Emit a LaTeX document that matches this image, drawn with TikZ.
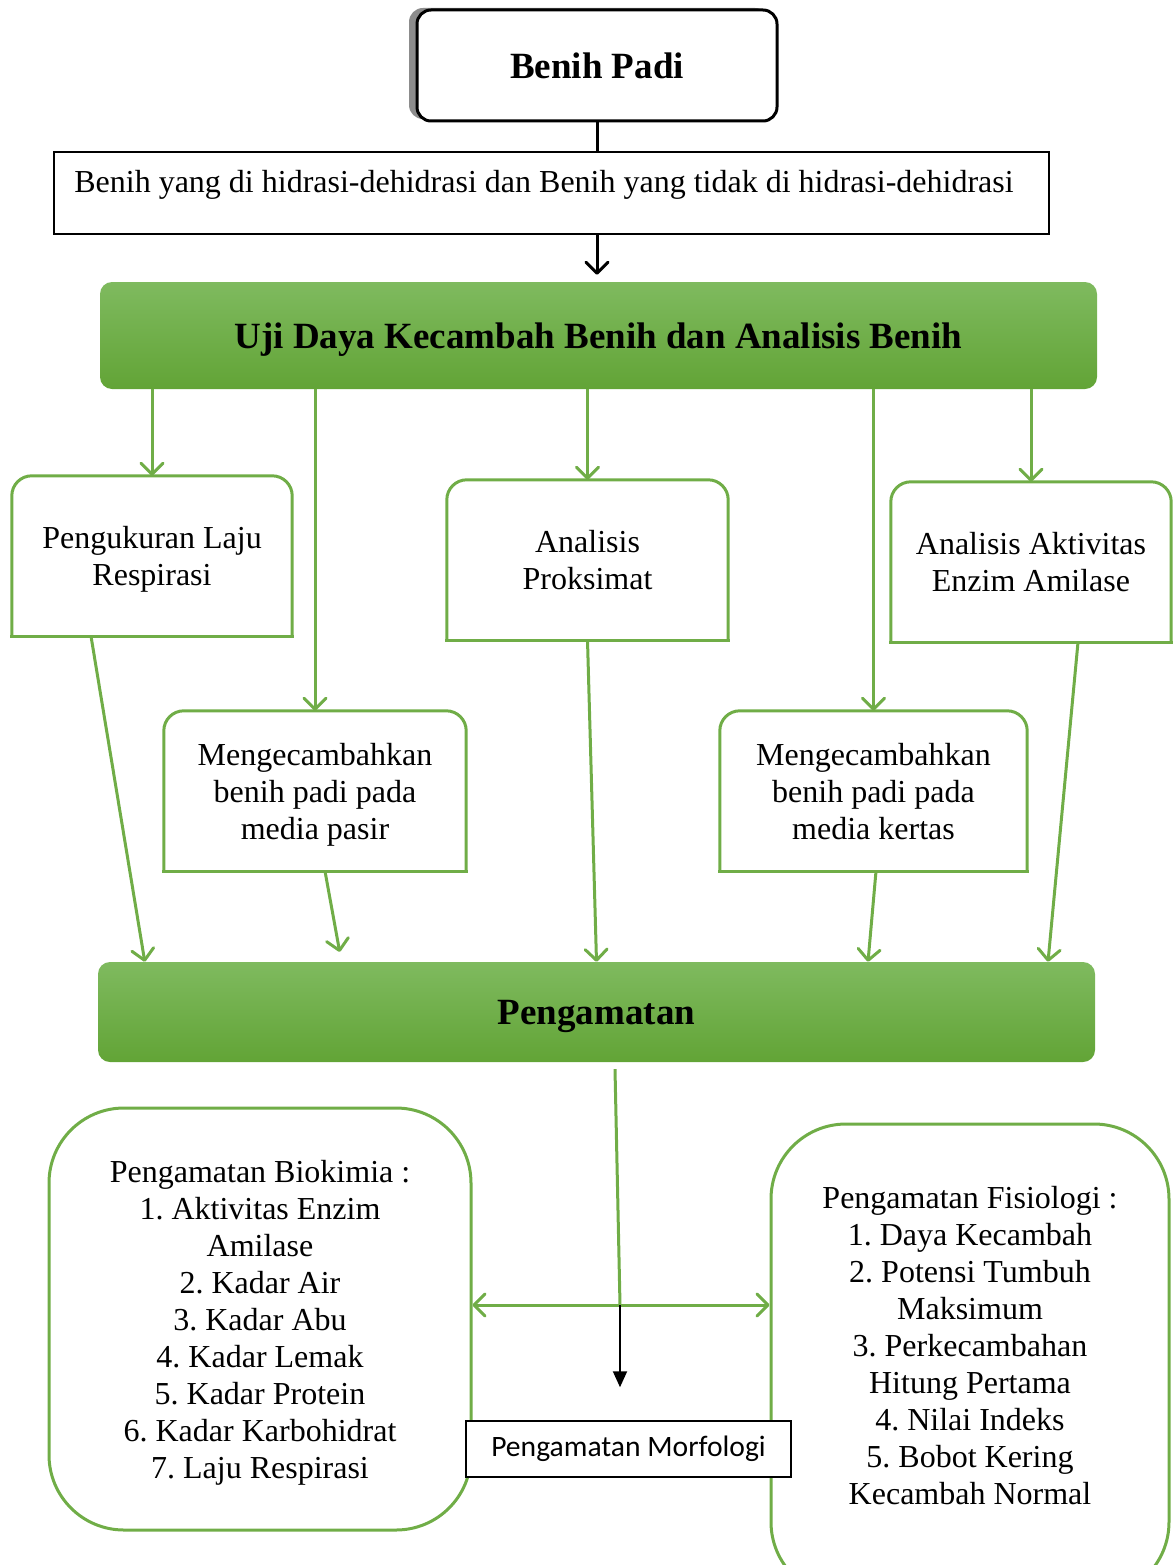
\documentclass[tikz,border=0pt]{standalone}
\usepackage{fontspec}
\setmainfont{Liberation Serif}
\newfontfamily\calibri{Carlito}
\usetikzlibrary{arrows.meta,shadows}
\definecolor{ijo}{RGB}{112,173,71}
\definecolor{ijoatas}{RGB}{127,186,95}
\definecolor{ijobawah}{RGB}{98,164,54}
\frenchspacing

\begin{document}
\begin{tikzpicture}[x=1pt,y=-1pt,
    tulisan/.style={font=\fontsize{32}{37}\selectfont,align=center,text depth=0pt},
    judul/.style={font=\fontsize{37}{42}\selectfont\bfseries},
    kotakhijau/.style={judul,text depth=0pt,rounded corners=12pt,top color=ijoatas,bottom color=ijobawah,draw=none},
    kotak/.style={tulisan,inner sep=0pt},
    bulat/.style={tulisan,draw=ijo,line width=3pt,rounded corners=75pt},
    garis/.style={ijo,line width=3pt},
    panah/.style={garis,-{Straight Barb[length=11pt,width=22pt,round]}},
    hitam/.style={black,line width=3pt}
  ]
  \useasboundingbox (0,0) rectangle (1175,1565);

  % bagian atas
  \node[judul,draw,line width=3pt,rounded corners=14pt,fill=white,
    minimum width=360,minimum height=111,
    drop shadow={shadow xshift=-8pt,shadow yshift=2pt,fill=black!45,opacity=1}] (benih) at (597,65.5) {Benih Padi};
  \node[draw,line width=1.5pt,minimum width=995,minimum height=82,inner sep=0pt] (hidrasi) at (551.5,193) {};
  \node[tulisan] (hidrasiteks) at (544,181) {Benih yang di hidrasi-dehidrasi dan Benih yang tidak di hidrasi-dehidrasi};
  \draw[hitam] (benih.south) -- (benih.south |- hidrasi.north);

  \node[kotakhijau,minimum width=997,minimum height=107] (uji) at (598.5,335.5) {Uji Daya Kecambah Benih dan Analisis Benih};
  \draw[hitam,-{Straight Barb[length=11pt,width=22pt,round]},shorten >=7pt] (benih.south |- hidrasi.south) -- (benih.south |- uji.north);

  % kotak perlakuan
  \node[kotak,minimum width=280,minimum height=160] (resp) at (152,556) {Pengukuran Laju\\Respirasi};
  \node[kotak,minimum width=281,minimum height=160] (prok) at (587.5,560) {Analisis\\Proksimat};
  \node[kotak,minimum width=280,minimum height=160] (amil) at (1031,562) {Analisis Aktivitas\\Enzim Amilase};
  \node[kotak,minimum width=302,minimum height=160] (pasir) at (315,791) {Mengecambahkan\\benih padi pada\\media pasir};
  \node[kotak,minimum width=307,minimum height=160] (kertas) at (873.5,791) {Mengecambahkan\\benih padi pada\\media kertas};
  \foreach \n in {resp,prok,amil,pasir,kertas} {
    \draw[garis,rounded corners=20pt] (\n.south west) -- (\n.north west) -- (\n.north east) -- (\n.south east);
    \draw[garis,line cap=rect] (\n.south west) -- (\n.south east);
  }

  \foreach \n in {resp,prok,amil,pasir,kertas}
    \draw[panah] (uji.south -| \n.north) -- (\n.north);

  \node[kotakhijau,minimum width=997,minimum height=100] (amat) at (596.5,1012) {Pengamatan};

  \draw[panah] ([xshift=-61pt]resp.south) -- ([xshift=47pt]amat.north west);
  \draw[panah,shorten >=10pt] ([xshift=10pt]pasir.south) -- ([xshift=-255pt]amat.north);
  \draw[panah] (prok.south) -- (amat.north);
  \draw[panah] ([xshift=2.5pt]kertas.south) -- ([xshift=271.5pt]amat.north);
  \draw[panah] ([xshift=47pt]amil.south) -- ([xshift=451.5pt]amat.north);

  % pengamatan
  \node[bulat,minimum width=422,minimum height=422] (bio) at (260,1319) {Pengamatan Biokimia :\\1. Aktivitas Enzim\\Amilase\\2. Kadar Air\\3. Kadar Abu\\4. Kadar Lemak\\5. Kadar Protein\\6. Kadar Karbohidrat\\7. Laju Respirasi};
  \node[bulat,minimum width=398,minimum height=473] (fis) at (970,1360.5) {};
  \node[tulisan] (fisteks) at (970,1345) {Pengamatan Fisiologi :\\1. Daya Kecambah\\2. Potensi Tumbuh\\Maksimum\\3. Perkecambahan\\Hitung Pertama\\4. Nilai Indeks\\5. Bobot Kering\\Kecambah Normal};

  \coordinate (tengah) at (620,1305);
  \draw[garis] ([xshift=18.5pt,yshift=-7pt]amat.south) -- (tengah);
  \draw[garis,{Straight Barb[length=11pt,width=22pt,round]}-{Straight Barb[length=11pt,width=22pt,round]}] (bio.east |- tengah) -- (fis.west |- tengah);

  \node[draw,line width=1.5pt,fill=white,minimum width=325,minimum height=56,
    font=\calibri\fontsize{29.6}{34}\selectfont] (morf) at (628.5,1449) {Pengamatan Morfologi};
  \draw[black,line width=2pt,-{Triangle[length=16pt,width=14pt]},shorten >=33pt] (tengah) -- (tengah |- morf.north);
\end{tikzpicture}
\end{document}
